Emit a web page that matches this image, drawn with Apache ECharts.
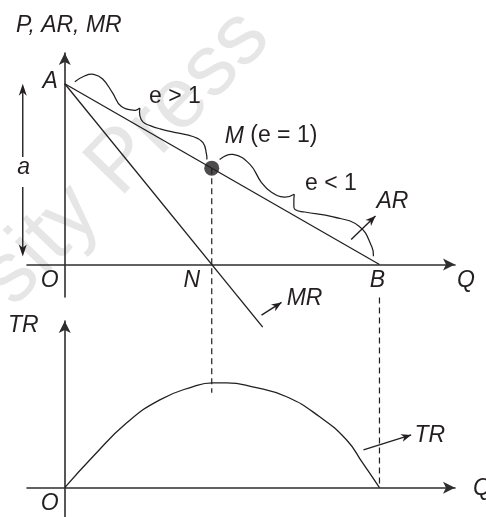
<!DOCTYPE html>
<html>
<head>
<meta charset="utf-8">
<script src="https://cdn.jsdelivr.net/npm/echarts/dist/echarts.min.js"></script>
<style>
  html, body { margin: 0; padding: 0; background: #fff; }
  #chart { width: 486px; height: 517px; }
</style>
</head>
<body>
<div id="chart"></div>
<script>
// Straight-line demand (AR), marginal revenue (MR) and total revenue (TR)
const arQ = [0, 100];
const arP = [100, 0];
const mrQ = [0, 62.9];
const mrP = [100, -34.7];
const pointA = [0, 100];
const pointN = [46.7, 0];
const pointM = [46.7, 53.3];
const pointB = [100, 0];
const trQ = [0, 8.9, 19.7, 30.2, 40.6, 47, 51.4, 59.7, 70.5, 81, 89.5, 94.6, 100];
const trValues = [0, 29.5, 61.9, 83.8, 96.2, 100, 100, 96.2, 86.7, 67.6, 45.7, 23.8, 0];

const INK = '#231f20';
const AXIS_INK = '#2e2e2e';
const FONT = '"Liberation Sans", Arial, sans-serif';
const SIZE = 23;

// brace outlines: [fraction along the segment, offset away from it in px]
const BRACE_SHAPES = [
  {
    left: [[0.046, 6.7], [0.08, 17], [0.12, 22.5], [0.18, 23], [0.27, 16], [0.355, 8.5], [0.437, 11.8], [0.456, 16.3]],
    right: [[0.456, 16.3], [0.477, 9.9], [0.512, 5.8], [0.56, 6.2], [0.62, 8.3], [0.72, 13.3], [0.81, 18], [0.88, 17.8], [0.933, 9.3], [0.95, 5]]
  },
  {
    left: [[0.013, 11.5], [0.06, 22.5], [0.16, 22.4], [0.26, 12.3], [0.33, 8.8], [0.40, 11], [0.437, 18.5]],
    right: [[0.437, 18.5], [0.46, 10], [0.48, 5.5], [0.53, 8.3], [0.67, 18.2], [0.81, 23], [0.92, 11.6], [0.952, 4.1]]
  }
];

const zip = (a, b) => a.map((v, i) => [v, b[i]]);

function plainAxis(min, max) {
  return {
    type: 'value', min, max,
    axisLine: {
      show: true, onZero: true,
      symbol: ['none', 'arrow'], symbolSize: [9, 12],
      lineStyle: { color: AXIS_INK, width: 1.6 }
    },
    axisTick: { show: false }, axisLabel: { show: false }, splitLine: { show: false }
  };
}

const option = {
  animation: false,
  backgroundColor: '#fff',
  grid: [
    { left: 27, top: 53, width: 428, height: 244 },
    { left: 27, top: 321, width: 428, height: 196 }
  ],
  xAxis: [
    Object.assign(plainAxis(-12, 124), { gridIndex: 0 }),
    Object.assign(plainAxis(-12, 124), { gridIndex: 1 })
  ],
  yAxis: [
    Object.assign(plainAxis(-18, 117), { gridIndex: 0 }),
    Object.assign(plainAxis(-28, 159), { gridIndex: 1 })
  ],
  series: [
    {
      name: 'AR', type: 'line', xAxisIndex: 0, yAxisIndex: 0,
      data: zip(arQ, arP), symbol: 'none', clip: false,
      lineStyle: { color: INK, width: 1.3 }
    },
    {
      name: 'MR', type: 'line', xAxisIndex: 0, yAxisIndex: 0,
      data: zip(mrQ, mrP), symbol: 'none', clip: false,
      lineStyle: { color: INK, width: 1.3 }
    },
    {
      name: 'braces', type: 'custom', xAxisIndex: 0, yAxisIndex: 0,
      data: [[...pointA, ...pointM], [...pointM, ...pointB]],
      renderItem(params, api) {
        const p1 = api.coord([api.value(0), api.value(1)]);
        const p2 = api.coord([api.value(2), api.value(3)]);
        const dx = p2[0] - p1[0], dy = p2[1] - p1[1];
        const len = Math.hypot(dx, dy);
        const ux = dx / len, uy = dy / len;
        const nx = uy, ny = -ux;
        const shape = BRACE_SHAPES[params.dataIndex];
        const place = pts => pts.map(([t, v]) => [p1[0] + ux * t * len + nx * v, p1[1] + uy * t * len + ny * v]);
        const style = { stroke: INK, lineWidth: 1.25, fill: null };
        return {
          type: 'group',
          children: [
            { type: 'polyline', shape: { points: place(shape.left), smooth: 0.45 }, style },
            { type: 'polyline', shape: { points: place(shape.right), smooth: 0.45 }, style }
          ]
        };
      }
    },
    {
      name: 'M', type: 'scatter', xAxisIndex: 0, yAxisIndex: 0,
      data: [pointM], symbolSize: 15, itemStyle: { color: INK }, z: 5
    },
    {
      name: 'TR', type: 'line', xAxisIndex: 1, yAxisIndex: 1,
      data: zip(trQ, trValues), symbol: 'none', smooth: 0.5,
      lineStyle: { color: INK, width: 1.3 }
    }
  ]
};

const chart = echarts.init(document.getElementById('chart'), null, { renderer: 'canvas' });
chart.setOption(option);

const top0 = v => chart.convertToPixel({ gridIndex: 0 }, v);
const bot1 = v => chart.convertToPixel({ gridIndex: 1 }, v);

function arrowHead(x1, y1, x2, y2, len, wid) {
  const a = Math.atan2(y2 - y1, x2 - x1);
  const c = Math.cos(a), s = Math.sin(a);
  const bx = x2 - len * c, by = y2 - len * s;
  const nx = bx + len * 0.28 * c, ny = by + len * 0.28 * s;
  return {
    type: 'polygon',
    shape: { points: [[x2, y2], [bx - s * wid / 2, by + c * wid / 2], [nx, ny], [bx + s * wid / 2, by - c * wid / 2]] },
    style: { fill: INK }
  };
}

function pointer(x1, y1, x2, y2) {
  return [
    { type: 'line', shape: { x1, y1, x2, y2 }, style: { stroke: INK, lineWidth: 1.4 } },
    arrowHead(x1, y1, x2, y2, 10, 8)
  ];
}

function label(text, x, y, opts) {
  return {
    type: 'text', x, y,
    style: Object.assign({
      text, fill: INK, align: 'left', verticalAlign: 'middle',
      font: 'italic ' + SIZE + 'px ' + FONT
    }, opts || {})
  };
}

const A = top0(pointA), N = top0(pointN), M = top0(pointM), B = top0(pointB);
const O = top0([0, 0]);
const mrEnd = top0([mrQ[1], mrP[1]]);
const O1 = bot1([0, 0]);
const B1 = bot1([pointB[0], 0]);
const peak = bot1([pointN[0], Math.max(...trValues)]);
const qEnd = top0([124, 0]);
const qEnd1 = bot1([124, 0]);

const dash = { stroke: INK, lineWidth: 1.2, lineDash: [6, 4] };
const aX = O[0] - 42;
const aMid = (A[1] + O[1]) / 2;

const elements = [
  // watermark
  {
    type: 'text', x: 126, y: 158, rotation: 46 * Math.PI / 180, z: -10,
    style: { text: 'sity Press', fill: '#e6e6e6', align: 'center', verticalAlign: 'middle', font: '86px ' + FONT }
  },
  // guides down to the TR curve
  { type: 'line', shape: { x1: M[0], y1: M[1], x2: M[0], y2: peak[1] + 10 }, style: dash },
  { type: 'line', shape: { x1: B[0], y1: B[1] + 33, x2: B[0], y2: B1[1] }, style: dash },
  // height of the demand intercept
  { type: 'line', shape: { x1: aX, y1: A[1] + 8, x2: aX, y2: aMid - 17 }, style: { stroke: INK, lineWidth: 1.4 } },
  { type: 'line', shape: { x1: aX, y1: aMid + 13, x2: aX, y2: O[1] - 16 }, style: { stroke: INK, lineWidth: 1.4 } },
  arrowHead(aX, A[1] + 20, aX, A[1], 12, 8),
  arrowHead(aX, O[1] - 28, aX, O[1] - 8, 12, 8),
  ...pointer(B[0] - 28.3, B[1] - 25, B[0] - 4, B[1] - 48.4),
  ...pointer(mrEnd[0] - 1.2, mrEnd[1] - 12, mrEnd[0] + 18.8, mrEnd[1] - 24.8),
  ...pointer(B1[0] - 16, B1[1] - 37.7, B1[0] + 31.7, B1[1] - 52.7),
  // text
  label('P, AR, MR', 16, 26),
  label('A', A[0] - 7, A[1] - 2, { align: 'right' }),
  label('a', aX + 1, aMid - 6, { align: 'center' }),
  label('O', O[0] - 15, O[1] + 16, { align: 'center' }),
  label('N', N[0] - 20, N[1] + 16, { align: 'center' }),
  label('B', B[0] - 2, B[1] + 16, { align: 'center' }),
  label('Q', qEnd[0] + 11, O[1] + 16, { align: 'center' }),
  label('e > 1', 149, 97, { font: SIZE + 'px ' + FONT }),
  {
    type: 'text', x: M[0] + 13, y: M[1] - 32,
    style: {
      text: '{i|M} (e = 1)', fill: INK, align: 'left', verticalAlign: 'middle',
      font: SIZE + 'px ' + FONT,
      rich: { i: { fontStyle: 'italic', fontSize: SIZE, fontFamily: FONT, fill: INK } }
    }
  },
  label('e < 1', 305, 184, { font: SIZE + 'px ' + FONT }),
  label('AR', B[0] - 3, B[1] - 63),
  label('MR', mrEnd[0] + 24, mrEnd[1] - 29),
  label('TR', 8, 326),
  label('TR', B1[0] + 35, B1[1] - 52),
  label('O', O1[0] - 15, O1[1] + 16, { align: 'center' }),
  label('Q', qEnd1[0] + 18, O1[1] + 1, { align: 'left' })
];

chart.setOption({ graphic: { elements } });
</script>
</body>
</html>
